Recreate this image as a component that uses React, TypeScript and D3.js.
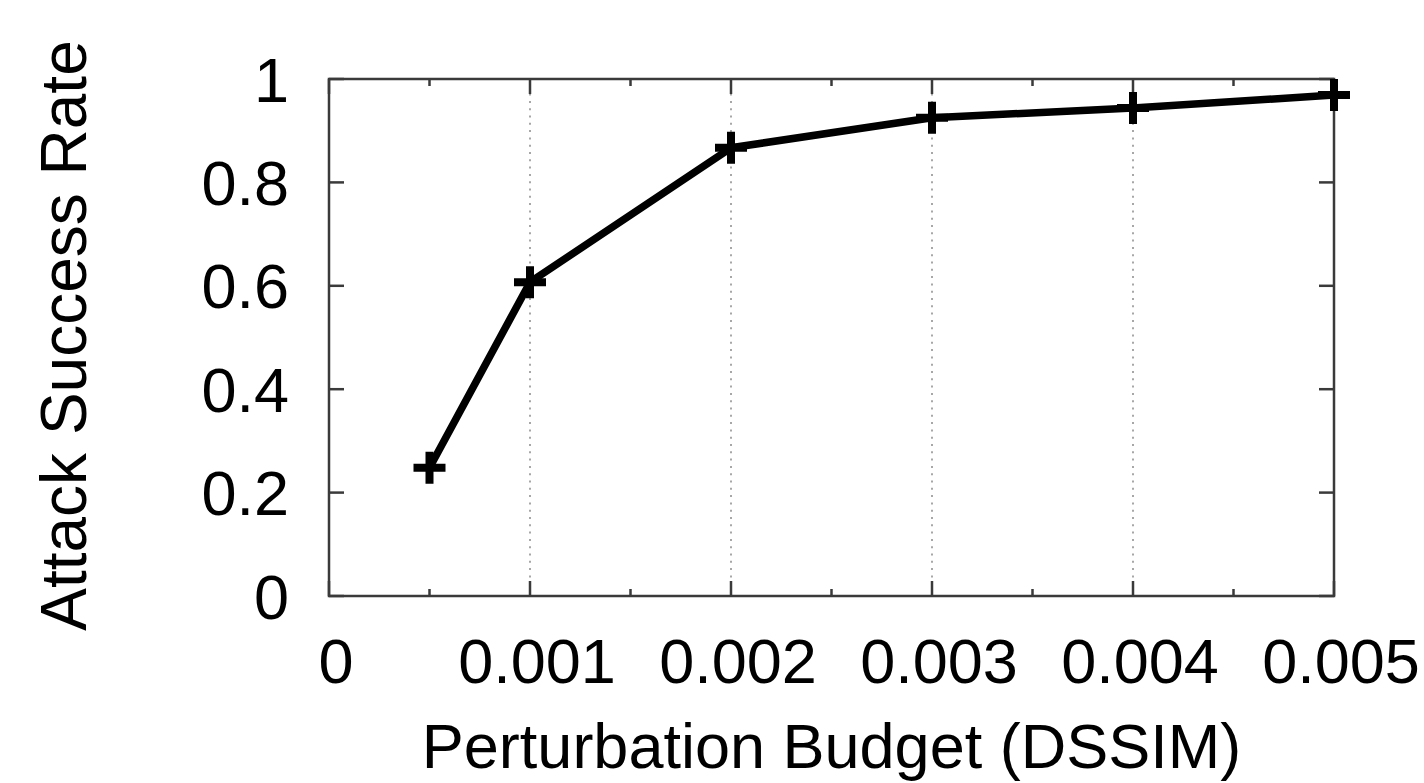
import React, { useRef, useEffect } from 'react';
import * as d3 from 'd3';

// Data
const budgets = [0.0005, 0.001, 0.002, 0.003, 0.004, 0.005];
const successRates = [0.248, 0.607, 0.867, 0.925, 0.944, 0.969];
const xTickValues = [0, 0.001, 0.002, 0.003, 0.004, 0.005];
const xTickLabels = ['0', '0.001', '0.002', '0.003', '0.004', '0.005'];
const xMinorTicks = [0.0005, 0.0015, 0.0025, 0.0035, 0.0045];
const yTickValues = [0, 0.2, 0.4, 0.6, 0.8, 1];
const yTickLabels = ['0', '0.2', '0.4', '0.6', '0.8', '1'];

const W = 1424;
const H = 783;
const FONT = '"Liberation Sans", Arial, Helvetica, sans-serif';

const App = () => {
  const svgRef = useRef<SVGSVGElement>(null);

  useEffect(() => {
    const svg = d3.select(svgRef.current);
    svg.selectAll('*').remove();

    const margin = { top: 79, right: 90, bottom: 187, left: 329 };
    const width = W - margin.left - margin.right;
    const height = H - margin.top - margin.bottom;

    const g = svg.append('g')
      .attr('transform', `translate(${margin.left},${margin.top})`);

    const x = d3.scaleLinear().domain([0, 0.005]).range([0, width]);
    const y = d3.scaleLinear().domain([0, 1]).range([height, 0]);

    // dotted vertical grid lines
    g.selectAll('.grid')
      .data(xTickValues.slice(1, -1))
      .enter()
      .append('line')
      .attr('x1', d => x(d))
      .attr('x2', d => x(d))
      .attr('y1', 0)
      .attr('y2', height)
      .attr('stroke', '#8a8a8a')
      .attr('stroke-width', 1.5)
      .attr('stroke-dasharray', '2,5.3');

    const axisColor = '#3a3a3a';
    const major = 15;
    const minor = 7;

    // ticks on all four sides, pointing inward
    const tk = g.append('g');
    xTickValues.forEach(v => {
      tk.append('line').attr('x1', x(v)).attr('x2', x(v)).attr('y1', height).attr('y2', height - major);
      tk.append('line').attr('x1', x(v)).attr('x2', x(v)).attr('y1', 0).attr('y2', major);
    });
    xMinorTicks.forEach(v => {
      tk.append('line').attr('x1', x(v)).attr('x2', x(v)).attr('y1', height).attr('y2', height - minor);
      tk.append('line').attr('x1', x(v)).attr('x2', x(v)).attr('y1', 0).attr('y2', minor);
    });
    yTickValues.forEach(v => {
      tk.append('line').attr('x1', 0).attr('x2', major).attr('y1', y(v)).attr('y2', y(v));
      tk.append('line').attr('x1', width).attr('x2', width - major).attr('y1', y(v)).attr('y2', y(v));
    });
    tk.selectAll('line')
      .attr('stroke', axisColor)
      .attr('stroke-width', 2.5);

    // frame
    g.append('rect')
      .attr('x', 0)
      .attr('y', 0)
      .attr('width', width)
      .attr('height', height)
      .attr('fill', 'none')
      .attr('stroke', axisColor)
      .attr('stroke-width', 2.5);

    // tick labels
    g.selectAll('.xlabel')
      .data(xTickValues)
      .enter()
      .append('text')
      .attr('x', d => x(d) + 7)
      .attr('y', height + 87)
      .attr('text-anchor', 'middle')
      .style('font-family', FONT)
      .style('font-size', '63px')
      .style('fill', '#000')
      .text((d, i) => xTickLabels[i]);

    g.selectAll('.ylabel')
      .data(yTickValues)
      .enter()
      .append('text')
      .attr('x', -40)
      .attr('y', d => y(d))
      .attr('dy', '0.36em')
      .attr('text-anchor', 'end')
      .style('font-family', FONT)
      .style('font-size', '63px')
      .style('fill', '#000')
      .text((d, i) => yTickLabels[i]);

    // axis titles
    g.append('text')
      .attr('x', width / 2)
      .attr('y', height + 172)
      .attr('text-anchor', 'middle')
      .style('font-family', FONT)
      .style('font-size', '63px')
      .style('fill', '#000')
      .text('Perturbation Budget (DSSIM)');

    g.append('text')
      .attr('transform', 'rotate(-90)')
      .attr('x', -height / 2 + 2)
      .attr('y', -243)
      .attr('text-anchor', 'middle')
      .style('font-family', FONT)
      .style('font-size', '64px')
      .style('fill', '#000')
      .text('Attack Success Rate');

    // data line
    const pts = budgets.map((b, i) => [b, successRates[i]] as [number, number]);
    const line = d3.line<[number, number]>()
      .x(d => x(d[0]))
      .y(d => y(d[1]));

    g.append('path')
      .datum(pts)
      .attr('d', line)
      .attr('fill', 'none')
      .attr('stroke', '#000')
      .attr('stroke-width', 7.5)
      .attr('stroke-linejoin', 'round');

    // plus markers
    g.selectAll('.marker')
      .data(pts)
      .enter()
      .append('path')
      .attr('transform', d => `translate(${x(d[0])},${y(d[1])})`)
      .attr('d', 'M-16,0H16M0,-16V16')
      .attr('stroke', '#000')
      .attr('stroke-width', 8)
      .attr('fill', 'none');
  }, []);

  return (
    <svg
      ref={svgRef}
      width={W}
      height={H}
      viewBox={`0 0 ${W} ${H}`}
      style={{ position: 'absolute', left: 0, top: 0, display: 'block', background: '#fff' }}
    />
  );
};

export default App;
